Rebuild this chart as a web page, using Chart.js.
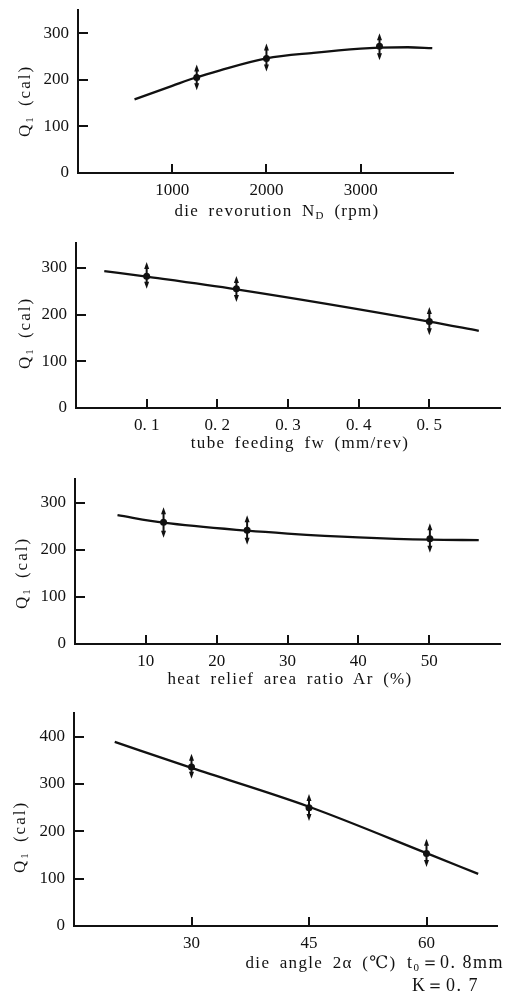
<!DOCTYPE html>
<html>
<head>
<meta charset="utf-8">
<script src="https://cdn.jsdelivr.net/npm/chart.js@4.4.1/dist/chart.umd.min.js"></script>
<style>
body { margin: 0; background: #fff; }
#page { position: relative; width: 510px; height: 997px; overflow: hidden; font-family: "Liberation Serif", "DejaVu Serif", serif; color: #111; }
.wrap { position: absolute; left: 0; width: 510px; }
.lbl { position: absolute; font-size: 17px; white-space: nowrap; transform: translate(-50%, -50%); letter-spacing: 1.3px; word-spacing: 4px; }
.ylbl { position: absolute; font-size: 17px; white-space: nowrap; transform: translate(-50%, -50%) rotate(-90deg); letter-spacing: 2px; word-spacing: 3px; }
.note { position: absolute; font-size: 18px; white-space: nowrap; transform: translateY(-50%); letter-spacing: 1.5px; }
sub { font-size: 11px; vertical-align: -3px; line-height: 0; }
</style>
</head>
<body>
<div id="page">
  <div class="wrap" id="w1"><canvas id="c1"></canvas></div>
  <div class="wrap" id="w2"><canvas id="c2"></canvas></div>
  <div class="wrap" id="w3"><canvas id="c3"></canvas></div>
  <div class="wrap" id="w4"><canvas id="c4"></canvas></div>

  <div class="ylbl" style="left:25px; top:101px;">Q<sub>1</sub> (cal)</div>
  <div class="lbl" style="left:277px; top:211px;">die revorution N<sub>D</sub> (rpm)</div>

  <div class="ylbl" style="left:25px; top:333px;">Q<sub>1</sub> (cal)</div>
  <div class="lbl" style="left:300px; top:443px;">tube feeding fw (mm/rev)</div>

  <div class="ylbl" style="left:22px; top:573px;">Q<sub>1</sub> (cal)</div>
  <div class="lbl" style="left:290px; top:679px;">heat relief area ratio Ar (%)</div>

  <div class="ylbl" style="left:20px; top:837px;">Q<sub>1</sub> (cal)</div>
  <div class="lbl" style="left:321px; top:962px;">die angle 2α (℃)</div>
  <div class="note" style="left:407px; top:962px;">t<sub>0</sub>＝0. 8mm</div>
  <div class="note" style="left:412px; top:985px;">K＝0. 7</div>
</div>

<script>
// panel 1 - die revolution
const p1CurveX = [600, 1000, 1250, 1500, 2000, 2500, 3000, 3200, 3500, 3760];
const p1CurveY = [158, 187, 205, 220, 246, 258, 267, 269, 270, 268];
const p1PointX = [1260, 2000, 3200];
const p1PointY = [205, 246, 272];
const p1Low = [180, 220, 244];
const p1High = [231, 276, 298];
const p1XTicks = [1000, 2000, 3000];
const p1XLabels = ['1000', '2000', '3000'];
const p1YTicks = [0, 100, 200, 300];

// panel 2 - tube feeding
const p2CurveX = [0.04, 0.1, 0.227, 0.5, 0.57];
const p2CurveY = [293, 281, 254, 185, 165];
const p2PointX = [0.1, 0.227, 0.5];
const p2PointY = [282, 255, 185];
const p2Low = [257, 229, 158];
const p2High = [310, 280, 214];
const p2XTicks = [0.1, 0.2, 0.3, 0.4, 0.5];
const p2XLabels = ['0. 1', '0. 2', '0. 3', '0. 4', '0. 5'];
const p2YTicks = [0, 100, 200, 300];

// panel 3 - heat relief area ratio
const p3CurveX = [6, 12.5, 24.3, 30, 40, 50.1, 57];
const p3CurveY = [274, 258, 241, 235, 227, 222, 221];
const p3PointX = [12.5, 24.3, 50.1];
const p3PointY = [259, 242, 224];
const p3Low = [228, 213, 196];
const p3High = [289, 272, 255];
const p3XTicks = [10, 20, 30, 40, 50];
const p3XLabels = ['10', '20', '30', '40', '50'];
const p3YTicks = [0, 100, 200, 300];

// panel 4 - die angle
const p4CurveX = [20.2, 30, 45, 60, 66.6];
const p4CurveY = [389, 334, 252, 154, 110];
const p4PointX = [30, 45, 60];
const p4PointY = [336, 250, 153];
const p4Low = [313, 224, 127];
const p4High = [362, 277, 182];
const p4XTicks = [30, 45, 60];
const p4XLabels = ['30', '45', '60'];
const p4YTicks = [0, 100, 200, 300, 400];

const ink = '#111';
const tickFont = { family: '"Liberation Serif", "DejaVu Serif", serif', size: 17 };

// white gap in the curve, error bar with arrow ends, drawn before the dots
const errorBarPlugin = {
    id: 'errorBars',
    beforeDatasetDraw(chart, args, opts) {
        if (args.index !== 1) return;
        const ctx = chart.ctx;
        const xs = chart.scales.x, ys = chart.scales.y;
        ctx.save();
        for (let i = 0; i < opts.x.length; i++) {
            const px = xs.getPixelForValue(opts.x[i]);
            const py = ys.getPixelForValue(opts.y[i]);
            const top = ys.getPixelForValue(opts.hi[i]);
            const bot = ys.getPixelForValue(opts.lo[i]);
            ctx.fillStyle = '#fff';
            ctx.beginPath();
            ctx.arc(px, py, 6, 0, Math.PI * 2);
            ctx.fill();
            ctx.strokeStyle = ink;
            ctx.lineWidth = 2;
            ctx.beginPath();
            ctx.moveTo(px, top + 3);
            ctx.lineTo(px, bot - 3);
            ctx.stroke();
            ctx.fillStyle = ink;
            ctx.beginPath();
            ctx.moveTo(px, top - 1);
            ctx.lineTo(px - 2.5, top + 6);
            ctx.lineTo(px + 2.5, top + 6);
            ctx.closePath();
            ctx.fill();
            ctx.beginPath();
            ctx.moveTo(px, bot + 1);
            ctx.lineTo(px - 2.5, bot - 6);
            ctx.lineTo(px + 2.5, bot - 6);
            ctx.closePath();
            ctx.fill();
        }
        ctx.restore();
    }
};

// tick marks pointing into the plot, as in the printed figure
const inwardTicksPlugin = {
    id: 'inwardTicks',
    afterDraw(chart) {
        const ctx = chart.ctx;
        const xs = chart.scales.x, ys = chart.scales.y;
        const area = chart.chartArea;
        ctx.save();
        ctx.strokeStyle = ink;
        ctx.lineWidth = 2;
        ctx.beginPath();
        xs.ticks.forEach(t => {
            const px = Math.round(xs.getPixelForValue(t.value));
            ctx.moveTo(px, area.bottom);
            ctx.lineTo(px, area.bottom - 9);
        });
        ys.ticks.forEach(t => {
            if (t.value === 0) return;
            const py = Math.round(ys.getPixelForValue(t.value));
            ctx.moveTo(area.left, py);
            ctx.lineTo(area.left + 10, py);
        });
        ctx.stroke();
        ctx.restore();
    }
};

function toPoints(xs, ys) {
    return xs.map((x, i) => ({ x: x, y: ys[i] }));
}

function makePanel(p) {
    const wrap = document.getElementById(p.wrap);
    const padTop = 4;
    const xHeight = 32;
    wrap.style.top = (p.areaTop - padTop) + 'px';
    wrap.style.height = (p.areaBottom - p.areaTop + padTop + xHeight) + 'px';

    new Chart(document.getElementById(p.canvas), {
        type: 'scatter',
        data: {
            datasets: [{
                data: toPoints(p.curveX, p.curveY),
                showLine: true,
                borderColor: ink,
                borderWidth: 2.3,
                pointRadius: 0,
                cubicInterpolationMode: 'monotone'
            }, {
                data: toPoints(p.pointX, p.pointY),
                showLine: false,
                pointRadius: 3.5,
                pointBackgroundColor: ink,
                pointBorderWidth: 0
            }]
        },
        options: {
            responsive: true,
            maintainAspectRatio: false,
            animation: false,
            events: [],
            layout: { padding: { top: padTop, right: 510 - p.areaRight, left: 0, bottom: 0 } },
            plugins: {
                legend: { display: false },
                tooltip: { enabled: false },
                errorBars: { x: p.pointX, y: p.pointY, lo: p.low, hi: p.high }
            },
            scales: {
                x: {
                    type: 'linear',
                    min: p.xMin,
                    max: p.xMax,
                    grid: { display: false, drawTicks: false },
                    border: { display: true, color: ink, width: 2 },
                    ticks: {
                        color: ink,
                        font: tickFont,
                        padding: 7,
                        maxRotation: 0,
                        callback: (v, i) => p.xLabels[i]
                    },
                    afterBuildTicks: s => { s.ticks = p.xTicks.map(v => ({ value: v })); },
                    afterFit: s => { s.height = xHeight; s.paddingLeft = 0; s.paddingRight = 0; }
                },
                y: {
                    type: 'linear',
                    min: 0,
                    max: p.yMax,
                    grid: { display: false, drawTicks: false },
                    border: { display: true, color: ink, width: 2 },
                    ticks: { color: ink, font: tickFont, padding: 9 },
                    afterBuildTicks: s => { s.ticks = p.yTicks.map(v => ({ value: v })); },
                    afterFit: s => { s.width = p.areaLeft; s.paddingTop = 0; s.paddingBottom = 0; }
                }
            }
        },
        plugins: [errorBarPlugin, inwardTicksPlugin]
    });
}

makePanel({
    wrap: 'w1', canvas: 'c1', areaTop: 10, areaBottom: 173, areaLeft: 78, areaRight: 453,
    xMin: 0, xMax: 3980, yMax: 350,
    curveX: p1CurveX, curveY: p1CurveY, pointX: p1PointX, pointY: p1PointY,
    low: p1Low, high: p1High, xTicks: p1XTicks, xLabels: p1XLabels, yTicks: p1YTicks
});
makePanel({
    wrap: 'w2', canvas: 'c2', areaTop: 243, areaBottom: 408, areaLeft: 76, areaRight: 500,
    xMin: 0, xMax: 0.6, yMax: 353,
    curveX: p2CurveX, curveY: p2CurveY, pointX: p2PointX, pointY: p2PointY,
    low: p2Low, high: p2High, xTicks: p2XTicks, xLabels: p2XLabels, yTicks: p2YTicks
});
makePanel({
    wrap: 'w3', canvas: 'c3', areaTop: 479, areaBottom: 644, areaLeft: 75, areaRight: 500,
    xMin: 0, xMax: 60, yMax: 351,
    curveX: p3CurveX, curveY: p3CurveY, pointX: p3PointX, pointY: p3PointY,
    low: p3Low, high: p3High, xTicks: p3XTicks, xLabels: p3XLabels, yTicks: p3YTicks
});
makePanel({
    wrap: 'w4', canvas: 'c4', areaTop: 713, areaBottom: 926, areaLeft: 74, areaRight: 497,
    xMin: 15, xMax: 69, yMax: 450,
    curveX: p4CurveX, curveY: p4CurveY, pointX: p4PointX, pointY: p4PointY,
    low: p4Low, high: p4High, xTicks: p4XTicks, xLabels: p4XLabels, yTicks: p4YTicks
});
</script>
</body>
</html>
